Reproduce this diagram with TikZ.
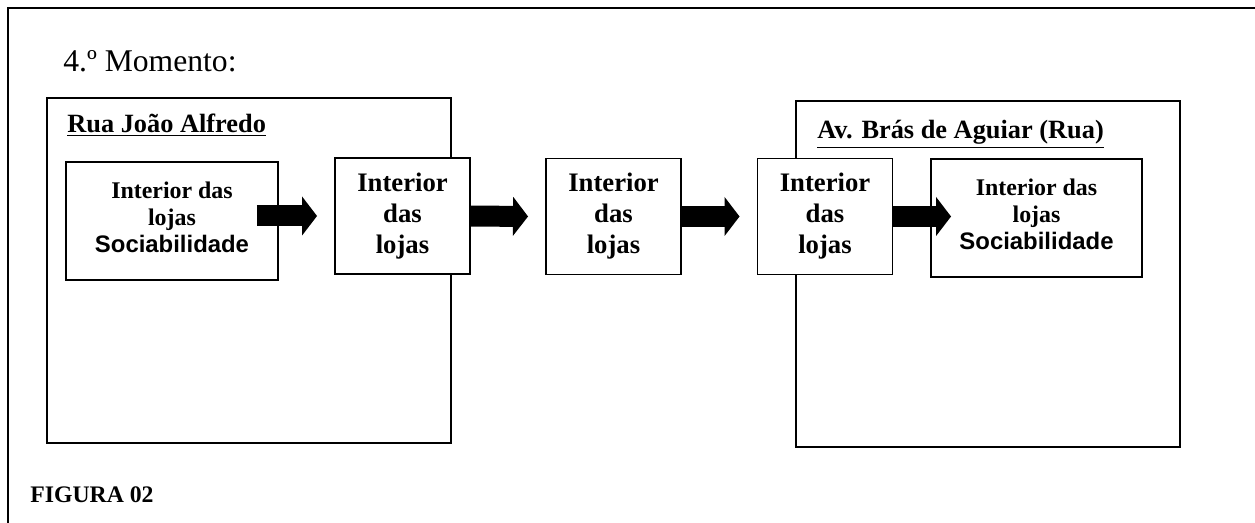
\documentclass[tikz,border=0pt]{standalone}
\usepackage{fontspec}
\setmainfont{Liberation Serif}
\newfontfamily\arialfont{Liberation Sans}
\usetikzlibrary{arrows.meta, calc}

\begin{document}
\begin{tikzpicture}[
x={(0.02 cm, 0 cm)}, y={(0 cm, -0.02 cm)},
% #region Picture settings %
rua/.style={draw, line width=1pt, anchor=north west, inner sep=0pt, outer sep=0pt},
titulo/.style={anchor=base west, inner sep=0pt, font=\bfseries\fontsize{15}{17}\selectfont},
loja/.style={draw, fill=white, line width=1pt, align=center, inner sep=0pt, outer sep=0pt},
lojap/.style={loja, minimum width=4.24cm, minimum height=2.36cm, text depth=4.5pt, font=\bfseries\fontsize{13.6}{15.4}\selectfont},
lojag/.style={loja, minimum width=2.7cm, minimum height=2.32cm, font=\bfseries\fontsize{15.2}{17.6}\selectfont},
seta/.style={line width=11.95pt, -{Triangle[length=8.5pt, width=22.2pt, line width=0pt]}},
% #endregion Picture settings %
]

\useasboundingbox (0,0) rectangle (1255,523);

\draw[line width=1.2pt] (8,523) -- (8,8) -- (1255,8);

\node[anchor=base west, inner sep=0pt, font=\fontsize{18}{21}\selectfont] (momento) at (63,72) {4.º Momento:};

\node[rua, minimum width=8.08cm, minimum height=6.9cm] (ruaJoao) at (47,98) {};
\node[rua, minimum width=7.68cm, minimum height=6.92cm] (avBras) at (796,101) {};

\node[titulo] (tituloRua) at ($(ruaJoao.north west)+(20,35)$) {\underline{Rua João Alfredo}};
\node[titulo] (tituloAv) at ($(avBras.north west)+(21,38)$) {\underline{Av. Brás de Aguiar (Rua)}};

\node[lojap] (lojaA) at (172,221) {Interior das\\lojas\\{\arialfont Sociabilidade}};
\node[lojag] (lojaB) at (402.5,216) {Interior\\das\\lojas};
\node[lojag] (lojaC) at (613.5,216.5) {Interior\\das\\lojas};
\node[lojag] (lojaD) at (825,216.5) {Interior\\das\\lojas};
\node[lojap, minimum width=4.22cm] (lojaE) at (1036.5,218) {Interior das\\lojas\\{\arialfont Sociabilidade}};

\draw[seta] ($(lojaA.east |- lojaB.center)+(-21,0)$) -- ($(lojaB.west)+(-18,0)$);
\draw[seta] (lojaB.east) -- ($(lojaC.west)+(-18,0)$);
\draw[seta] (lojaC.east) -- ($(lojaD.west)+(-18,0)$);
\draw[seta] (lojaD.east) -- ($(lojaE.west |- lojaD.center)+(20,0)$);

\node[anchor=base west, inner sep=0pt, font=\bfseries\fontsize{13.5}{16}\selectfont] (figura) at (30,502) {FIGURA 02};

\end{tikzpicture}
\end{document}
